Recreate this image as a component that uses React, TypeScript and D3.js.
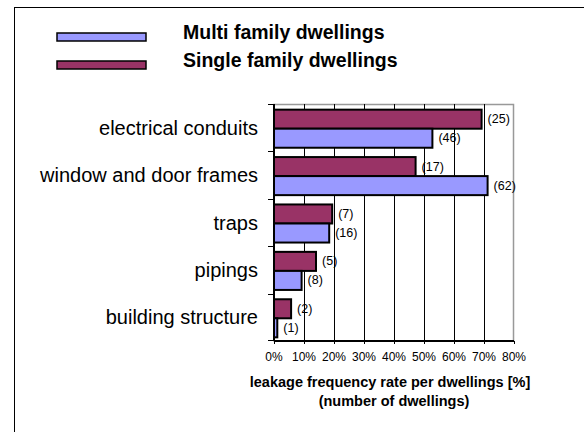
import React from "react";
import * as d3 from "d3";

const categories = ["electrical conduits", "window and door frames", "traps", "pipings", "building structure"];
const singleValues = [69.2, 47.2, 19.4, 14.0, 5.7];
const multiValues = [52.8, 71.2, 18.4, 9.2, 1.1];
const singleCounts = [25, 17, 7, 5, 2];
const multiCounts = [46, 62, 16, 8, 1];
const xTicks = [0, 10, 20, 30, 40, 50, 60, 70, 80];
const seriesNames = ["Multi family dwellings", "Single family dwellings"];

const BLUE = "#9999FF";
const MAROON = "#993366";
const FONT = "'Liberation Sans', Arial, sans-serif";

export default function App() {
  const left = 274, right = 514, top = 104, bottom = 341;
  const x = d3.scaleLinear().domain([0, 80]).range([left, right]);
  const y = d3.scaleBand<string>().domain(categories).range([top, bottom]).padding(0);
  const inner = d3.scaleBand<string>().domain(["single", "multi"]).range([1, y.bandwidth() + 1]).paddingInner(0).paddingOuter(0.245);

  const bars: any[] = [];
  categories.forEach((c, i) => {
    bars.push({ c, key: "single", v: singleValues[i], n: singleCounts[i], fill: MAROON });
    bars.push({ c, key: "multi", v: multiValues[i], n: multiCounts[i], fill: BLUE });
  });

  return (
    <svg width={584} height={432} style={{ position: "absolute", left: 0, top: 0 }} fontFamily={FONT}>
      <rect x={0} y={0} width={584} height={432} fill="#fff" />
      <rect x={14.5} y={7.5} width={600} height={500} fill="none" stroke="#000" strokeWidth={1} />
      {/* legend */}
      <rect x={57} y={33} width={89} height={8} fill={BLUE} stroke="#000" strokeWidth={1.5} />
      <rect x={57} y={61} width={89} height={8} fill={MAROON} stroke="#000" strokeWidth={1.5} />
      <text x={183} y={32} dominantBaseline="central" fontSize={19.5} fontWeight="bold">{seriesNames[0]}</text>
      <text x={183} y={60} dominantBaseline="central" fontSize={19.5} fontWeight="bold">{seriesNames[1]}</text>
      {/* plot border */}
      <rect x={left} y={top + 0.5} width={right - left - 0.5} height={bottom - top - 0.5} fill="none" stroke="#999" strokeWidth={1.5} />
      {/* gridlines */}
      {xTicks.slice(1, -1).map((t) => (
        <line key={t} x1={Math.round(x(t)) + 0.5} x2={Math.round(x(t)) + 0.5} y1={top} y2={bottom} stroke="#000" strokeWidth={1} />
      ))}
      {/* bars */}
      {bars.map((b, i) => (
        <rect key={i} x={x(0)} y={(y(b.c) as number) + (inner(b.key) as number)} width={x(b.v) - x(0)} height={inner.bandwidth()} fill={b.fill} stroke="#000" strokeWidth={2} />
      ))}
      {bars.map((b, i) => (
        <text key={"l" + i} x={x(b.v) + 6} y={(y(b.c) as number) + (inner(b.key) as number) + inner.bandwidth() / 2} dominantBaseline="central" fontSize={12.5}>
          ({b.n})
        </text>
      ))}
      {/* y axis */}
      <line x1={left} x2={left} y1={top} y2={bottom} stroke="#000" strokeWidth={2} />
      {categories.map((c, i) => (
        <line key={"yt" + i} x1={left - 6} x2={left} y1={Math.round(y(c) as number) + 0.5} y2={Math.round(y(c) as number) + 0.5} stroke="#000" strokeWidth={1} />
      ))}
      <line x1={left - 6} x2={left} y1={bottom - 0.5} y2={bottom - 0.5} stroke="#000" strokeWidth={1} />
      {categories.map((c) => (
        <text key={"yl" + c} x={258} y={(y(c) as number) + y.bandwidth() / 2} textAnchor="end" dominantBaseline="central" fontSize={20}>
          {c}
        </text>
      ))}
      {/* x axis */}
      <line x1={left} x2={right} y1={bottom} y2={bottom} stroke="#000" strokeWidth={2} />
      {xTicks.map((t) => (
        <line key={"xt" + t} x1={Math.round(x(t)) + 0.5} x2={Math.round(x(t)) + 0.5} y1={bottom} y2={bottom + 3} stroke="#000" strokeWidth={1} />
      ))}
      {xTicks.map((t) => (
        <text key={"xl" + t} x={x(t)} y={357} textAnchor="middle" dominantBaseline="central" fontSize={12}>
          {t}%
        </text>
      ))}
      <text x={(left + right) / 2 - 4} y={382} textAnchor="middle" dominantBaseline="central" fontSize={14.5} fontWeight="bold">
        leakage frequency rate per dwellings [%]
      </text>
      <text x={(left + right) / 2} y={401} textAnchor="middle" dominantBaseline="central" fontSize={14.5} fontWeight="bold">
        (number of dwellings)
      </text>
    </svg>
  );
}
